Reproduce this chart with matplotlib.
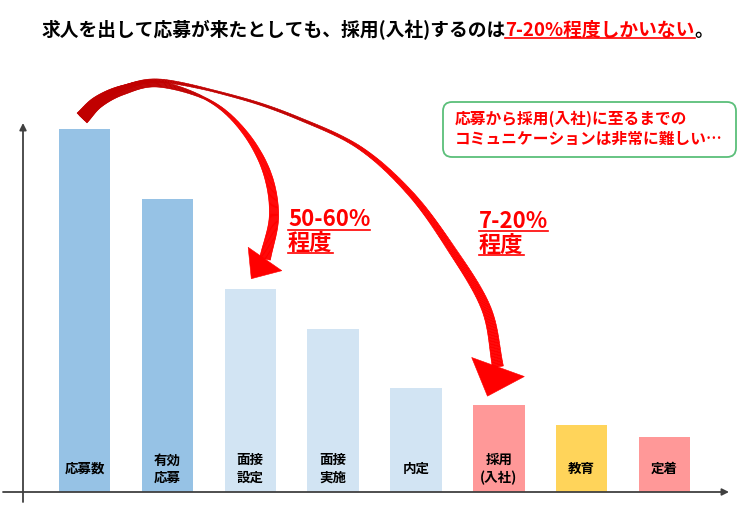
import numpy as np
import matplotlib
matplotlib.use('Agg')
import matplotlib.pyplot as plt
from matplotlib.patches import Polygon, FancyBboxPatch
from matplotlib.collections import PolyCollection
from matplotlib.colors import to_rgb

plt.rcParams['font.family'] = ['Noto Sans CJK JP', 'DejaVu Sans']

# data
stages = ['応募数', '有効\n応募', '面接\n設定', '面接\n実施', '内定', '採用\n(入社)', '教育', '定着']
values = [100, 80.7, 55.9, 44.9, 28.7, 24.0, 18.5, 15.2]
bar_colors = ['#96C2E5', '#96C2E5', '#D2E4F3', '#D2E4F3', '#D2E4F3',
              '#FF9898', '#FFD45A', '#FF9898']

title_black = '求人を出して応募が来たとしても、採用(入社)するのは'
title_red = '7-20%程度しかいない'
title_end = '。'
note_lines = ['応募から採用(入社)に至るまでの', 'コミュニケーションは非常に難しい…']
rate1 = ['50-60%', '程度']
rate2 = ['7-20%', '程度']

RED = '#FF0000'
W, H = 750, 512

fig = plt.figure(figsize=(7.5, 5.12), dpi=100)

# bars
ax = fig.add_axes([0, 0, 1, 1])
x = np.arange(len(stages))
ax.bar(x, values, width=0.62, color=bar_colors, edgecolor='none', zorder=2)
ax.set_xlim(-1.02, 8.03)
ax.set_ylim(-5.51, 135.5)
ax.axis('off')
for i, s in enumerate(stages):
    ax.text(i, 6.3, s, ha='center', va='center', fontsize=9.7,
            fontweight='bold', linespacing=1.3, zorder=3)

# overlay in pixel coords for annotations
ov = fig.add_axes([0, 0, 1, 1])
ov.set_xlim(0, W)
ov.set_ylim(H, 0)
ov.axis('off')
ov.patch.set_alpha(0)

axis_style = dict(arrowstyle='-|>', color='#404040', lw=1.3,
                  mutation_scale=10, shrinkA=0, shrinkB=0)
ov.annotate('', xy=(729, 492), xytext=(3, 492), arrowprops=axis_style)
ov.annotate('', xy=(23, 123), xytext=(23, 502), arrowprops=axis_style)


def spline(points, n=40):
    pts = np.array(points, float)
    p = np.vstack([2 * pts[0] - pts[1], pts, 2 * pts[-1] - pts[-2]])
    out = []
    t = np.linspace(0, 1, n, endpoint=False)[:, None]
    for k in range(1, len(p) - 2):
        p0, p1, p2, p3 = p[k - 1], p[k], p[k + 1], p[k + 2]
        out.append(0.5 * (2 * p1 + (-p0 + p2) * t
                          + (2 * p0 - 5 * p1 + 4 * p2 - p3) * t ** 2
                          + (-p0 + 3 * p1 - 3 * p2 + p3) * t ** 3))
    out.append(pts[-1:])
    return np.vstack(out)


def tapered_arrow(points, s_knots, w_knots, head_dir, head_len, head_half, fade):
    path = spline(points)
    d = np.diff(path, axis=0)
    seg = np.hypot(d[:, 0], d[:, 1])
    s = np.concatenate([[0], np.cumsum(seg)]) / seg.sum()
    tang = np.gradient(path, axis=0)
    tang /= np.hypot(tang[:, 0], tang[:, 1])[:, None]
    nrm = np.column_stack([-tang[:, 1], tang[:, 0]])
    w = np.interp(s, s_knots, w_knots)[:, None] / 2
    left = path + nrm * w
    right = path - nrm * w
    c0, c1 = np.array(to_rgb('#C00000')), np.array(to_rgb(RED))
    mix = np.clip((s - fade[0]) / (fade[1] - fade[0]), 0, 1)
    quads = [[left[j], left[j + 1], right[j + 1], right[j]] for j in range(len(path) - 1)]
    cols = [c0 + (c1 - c0) * mix[j] for j in range(len(path) - 1)]
    ov.add_collection(PolyCollection(quads, facecolors=cols, edgecolors=cols,
                                     linewidths=0.4, zorder=5))
    hd = np.array(head_dir, float)
    hd /= np.hypot(*hd)
    hn = np.array([-hd[1], hd[0]])
    base = path[-1]
    ov.add_patch(Polygon([base + hn * head_half, base + hd * head_len, base - hn * head_half],
                         closed=True, facecolor=RED, edgecolor=RED, lw=0.4, zorder=5))


# arrow to 採用
tapered_arrow([(82, 118), (98, 101), (123, 88), (163, 81), (240, 98), (300, 119),
               (360, 148), (410, 193), (450, 247), (486, 308), (498, 367)],
              [0, 0.12, 0.25, 0.5, 0.8, 1.0], [8, 4, 2, 3, 8, 11],
              (-0.34, 0.94), 31, 28, (0.42, 0.58))
# arrow to 面接設定
tapered_arrow([(82, 118), (98, 102), (123, 90), (158, 84), (208, 100), (242, 129),
               (266, 170), (274, 215), (265, 259)],
              [0, 0.2, 0.42, 0.55, 0.75, 1.0], [14, 8, 2, 4, 8, 11],
              (-0.57, 0.82), 24, 20.5, (0.38, 0.55))

fig.canvas.draw()
renderer = fig.canvas.get_renderer()


def text_width(t):
    bb = t.get_window_extent(renderer)
    return bb.x0, bb.x1


def underlined(x0, y, s, size, color=RED):
    t = ov.text(x0, y, s, ha='left', va='center', fontsize=size,
                fontweight='bold', color=color, zorder=6)
    a, b = text_width(t)
    fpx = size * 100 / 72
    ov.plot([a, b], [y + 0.45 * fpx] * 2, color=color, lw=1.2, zorder=6)
    return b


# title
t1 = ov.text(41, 30, title_black, ha='left', va='center', fontsize=13.5,
             fontweight='bold', color='black')
_, xr = text_width(t1)
xr = underlined(xr, 30, title_red, 13.5)
ov.text(xr, 30, title_end, ha='left', va='center', fontsize=13.5,
        fontweight='bold', color='black')

# rate labels
for k, s in enumerate(rate1):
    underlined(288, 220 + 23 * k, s, 16)
for k, s in enumerate(rate2):
    underlined(479, 221 + 24 * k, s, 16)

# note box
ov.add_patch(FancyBboxPatch((443, 102), 293, 55, boxstyle='round,pad=0,rounding_size=9',
                            facecolor='white', edgecolor='#5BBF7A', lw=1.3, zorder=4))
for k, s in enumerate(note_lines):
    ov.text(455, 119 + 20 * k, s, ha='left', va='center', fontsize=11.3,
            fontweight='bold', color=RED, zorder=6)

fig.savefig('out.png', dpi=100)
